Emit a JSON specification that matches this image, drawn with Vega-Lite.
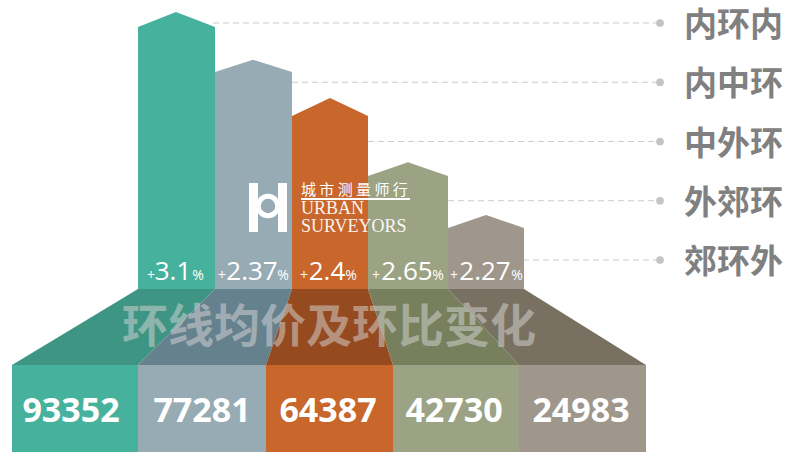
{
"$schema":"https://vega.github.io/schema/vega-lite/v6.json",
"width":797,"height":452,"padding":0,
"autosize":{"type":"fit","contains":"padding"},
"background":"#ffffff",
"config":{"view":{"stroke":null},"axis":{"disable":true}},
"datasets":{
"rings":[
{"ring":"内环内","price":93352,"label":"93352","pct":"3.1","lineStart":213,"left":12,"right":138,"mid":71,"plusAt":151,"numAt":173,"pctAt":198},
{"ring":"内中环","price":77281,"label":"77281","pct":"2.37","lineStart":292,"left":138,"right":266,"mid":202,"plusAt":222,"numAt":252,"pctAt":283},
{"ring":"中外环","price":64387,"label":"64387","pct":"2.4","lineStart":368,"left":266,"right":393,"mid":328,"plusAt":304,"numAt":327,"pctAt":351},
{"ring":"外郊环","price":42730,"label":"42730","pct":"2.65","lineStart":448,"left":393,"right":519,"mid":454,"plusAt":376,"numAt":407,"pctAt":438},
{"ring":"郊环外","price":24983,"label":"24983","pct":"2.27","lineStart":523,"left":519,"right":646,"mid":581,"plusAt":454,"numAt":485,"pctAt":517}
],
"houses":[
{"ring":"内环内","at":138,"value":88305},{"ring":"内环内","at":176,"value":93352},{"ring":"内环内","at":215,"value":88305},
{"ring":"内中环","at":215,"value":73138},{"ring":"内中环","at":253,"value":77281},{"ring":"内中环","at":292,"value":73138},
{"ring":"中外环","at":292,"value":58308},{"ring":"中外环","at":330,"value":64387},{"ring":"中外环","at":368,"value":58308},
{"ring":"外郊环","at":368,"value":38086},{"ring":"外郊环","at":408,"value":42730},{"ring":"外郊环","at":448,"value":38086},
{"ring":"郊环外","at":448,"value":20560},{"ring":"郊环外","at":486,"value":24983},{"ring":"郊环外","at":524,"value":20560}
],
"floor":[
{"ring":"内环内","row":289,"from":138,"to":215},{"ring":"内环内","row":365,"from":12,"to":138},
{"ring":"内中环","row":289,"from":215,"to":292},{"ring":"内中环","row":365,"from":138,"to":266},
{"ring":"中外环","row":289,"from":292,"to":368},{"ring":"中外环","row":365,"from":266,"to":393},
{"ring":"外郊环","row":289,"from":368,"to":448},{"ring":"外郊环","row":365,"from":393,"to":519},
{"ring":"郊环外","row":289,"from":448,"to":524},{"ring":"郊环外","row":365,"from":519,"to":646}
],
"logoBars":[{"x1":249,"x2":258,"y1":183,"y2":232},{"x1":278,"x2":287,"y1":183,"y2":232}]
},
"layer":[
{"data":{"name":"rings"},"mark":{"type":"rule","strokeDash":[6,4],"color":"#cccccc","strokeWidth":1.2},
 "encoding":{"x":{"field":"lineStart","type":"quantitative","scale":{"domain":[0,797],"nice":false,"zero":false}},"x2":{"datum":660},
 "y":{"field":"ring","type":"nominal","sort":null,"scale":{"type":"point","domain":["内环内","内中环","中外环","外郊环","郊环外"],"range":[23,260],"padding":0}}}},
{"data":{"name":"rings"},"mark":{"type":"point","filled":true,"size":60,"color":"#c4c4c4","opacity":1},
 "encoding":{"x":{"datum":660,"type":"quantitative"},
 "y":{"field":"ring","type":"nominal","sort":null,"scale":{"type":"point","domain":["内环内","内中环","中外环","外郊环","郊环外"],"range":[23,260],"padding":0}}}},
{"data":{"name":"rings"},"mark":{"type":"text","align":"left","baseline":"middle","dy":3,"font":"Noto Sans CJK SC","fontWeight":"bold","fontSize":33,"color":"#808080"},
 "encoding":{"x":{"datum":684,"type":"quantitative"},"text":{"field":"ring"},
 "y":{"field":"ring","type":"nominal","sort":null,"scale":{"type":"point","domain":["内环内","内中环","中外环","外郊环","郊环外"],"range":[23,260],"padding":0}}}},
{"data":{"name":"houses"},"mark":{"type":"area","opacity":1},
 "encoding":{"x":{"field":"at","type":"quantitative"},
 "y":{"field":"value","type":"quantitative","scale":{"domain":[-54937,97405],"nice":false,"zero":false}},"y2":{"datum":0},
 "color":{"field":"ring","type":"nominal","legend":null,"scale":{"domain":["内环内","内中环","中外环","外郊环","郊环外"],"range":["#46B29D","#97ABB4","#C8662B","#9BA384","#9F978C"]}}}},
{"data":{"name":"floor"},"mark":{"type":"area","orient":"horizontal","opacity":1},
 "encoding":{"y":{"field":"row","type":"quantitative","scale":{"domain":[452,0],"nice":false,"zero":false}},
 "x":{"field":"from","type":"quantitative"},"x2":{"field":"to"},
 "color":{"field":"ring","type":"nominal","legend":null,"scale":{"domain":["内环内","内中环","中外环","外郊环","郊环外"],"range":["#3F9583","#66818E","#954A20","#777F5D","#787060"]}}}},
{"data":{"name":"rings"},"mark":{"type":"rect"},
 "encoding":{"x":{"field":"left","type":"quantitative"},"x2":{"field":"right"},
 "y":{"datum":365,"type":"quantitative","scale":{"domain":[452,0],"nice":false,"zero":false}},"y2":{"datum":452},
 "color":{"field":"ring","type":"nominal","legend":null,"scale":{"domain":["内环内","内中环","中外环","外郊环","郊环外"],"range":["#46B29D","#97ABB4","#C8662B","#9BA384","#9F978C"]}}}},
{"data":{"values":[{"title":"环线均价及环比变化"}]},"mark":{"type":"text","align":"center","baseline":"middle","font":"Noto Sans CJK SC","fontWeight":"bold","fontSize":46,"color":"#d8d8d8","opacity":0.5},
 "encoding":{"x":{"datum":329,"type":"quantitative"},"y":{"datum":328,"type":"quantitative","scale":{"domain":[452,0],"nice":false,"zero":false}},"text":{"field":"title"}}},
{"data":{"name":"rings"},"mark":{"type":"text","align":"center","baseline":"middle","font":"Open Sans","fontWeight":"bold","fontSize":34,"color":"#ffffff"},
 "encoding":{"x":{"field":"mid","type":"quantitative"},"y":{"datum":412,"type":"quantitative","scale":{"domain":[452,0],"nice":false,"zero":false}},"text":{"field":"label"}}},
{"data":{"name":"rings"},"mark":{"type":"text","align":"center","baseline":"alphabetic","font":"Open Sans","fontSize":26,"color":"#ffffff"},
 "encoding":{"x":{"field":"numAt","type":"quantitative"},"y":{"datum":280,"type":"quantitative","scale":{"domain":[452,0],"nice":false,"zero":false}},"text":{"field":"pct"}}},
{"data":{"name":"rings"},"mark":{"type":"text","align":"center","baseline":"alphabetic","font":"Open Sans","fontSize":14,"color":"#ffffff","text":"+"},
 "encoding":{"x":{"field":"plusAt","type":"quantitative"},"y":{"datum":280,"type":"quantitative","scale":{"domain":[452,0],"nice":false,"zero":false}}}},
{"data":{"name":"rings"},"mark":{"type":"text","align":"center","baseline":"alphabetic","font":"Open Sans","fontSize":14,"color":"#ffffff","text":"%"},
 "encoding":{"x":{"field":"pctAt","type":"quantitative"},"y":{"datum":280,"type":"quantitative","scale":{"domain":[452,0],"nice":false,"zero":false}}}},
{"data":{"name":"logoBars"},"mark":{"type":"rect","color":"#ffffff"},
 "encoding":{"x":{"field":"x1","type":"quantitative"},"x2":{"field":"x2"},"y":{"field":"y1","type":"quantitative","scale":{"domain":[452,0],"nice":false,"zero":false}},"y2":{"field":"y2"}}},
{"data":{"values":[{"cx":268,"cy":206}]},"mark":{"type":"point","shape":"circle","filled":false,"size":380,"strokeWidth":5,"color":"#ffffff","opacity":1},
 "encoding":{"x":{"field":"cx","type":"quantitative"},"y":{"field":"cy","type":"quantitative","scale":{"domain":[452,0],"nice":false,"zero":false}}}},
{"data":{"values":[{"x1":301,"x2":410,"yy":199}]},"mark":{"type":"rule","color":"#ffffff","strokeWidth":2},
 "encoding":{"x":{"field":"x1","type":"quantitative"},"x2":{"field":"x2"},"y":{"field":"yy","type":"quantitative","scale":{"domain":[452,0],"nice":false,"zero":false}}}},
{"data":{"values":[{"t":"城 市 测 量 师 行","xx":301,"yy":190}]},
 "mark":{"type":"text","align":"left","baseline":"middle","font":"Noto Sans CJK SC","fontSize":15,"color":"#ffffff"},
 "encoding":{"x":{"field":"xx","type":"quantitative"},"y":{"field":"yy","type":"quantitative","scale":{"domain":[452,0],"nice":false,"zero":false}},"text":{"field":"t"}}},
{"data":{"values":[{"t":"URBAN","xx":301,"yy":209},{"t":"SURVEYORS","xx":301,"yy":227}]},
 "mark":{"type":"text","align":"left","baseline":"middle","font":"Liberation Serif","fontSize":18,"color":"#ffffff","opacity":0.92},
 "encoding":{"x":{"field":"xx","type":"quantitative"},"y":{"field":"yy","type":"quantitative","scale":{"domain":[452,0],"nice":false,"zero":false}},"text":{"field":"t"}}}
],
"resolve":{"scale":{"y":"independent","color":"independent"}}
}
